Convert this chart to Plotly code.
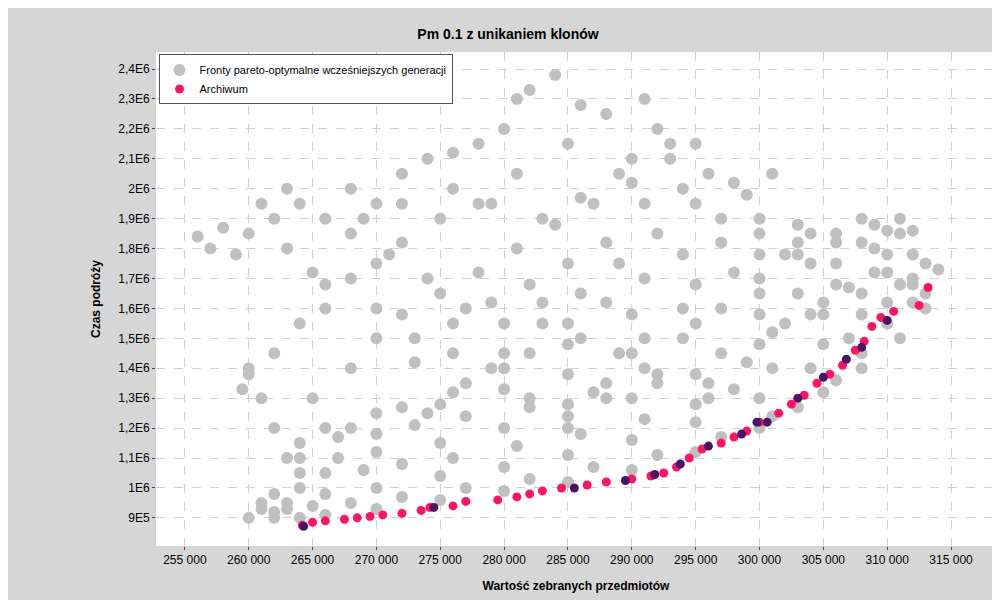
import plotly.graph_objects as go

# gray fronts: x in thousands, y in millions
fronts = [
 [(262,0.9),(264,0.9),(266,0.91),(270,0.93),(275,0.96),(280,0.99),(285,1.02),(290,1.06),(295,1.12),(300,1.2),(303,1.27),(306,1.36),(308,1.45),(310,1.55),(312,1.62),(314,1.73)],
 [(261,0.93),(263,0.95),(266,0.98),(270,1.0),(275,1.04),(280,1.07),(285,1.11),(290,1.16),(295,1.22),(300,1.3),(304,1.4),(307,1.5),(310,1.62),(312,1.7)],
 [(262,0.98),(264,1.05),(267,1.1),(270,1.12),(275,1.15),(280,1.2),(285,1.24),(290,1.3),(295,1.38),(300,1.48),(304,1.58),(307,1.67),(310,1.78),(312,1.86)],
 [(264,1.1),(266,1.2),(270,1.25),(275,1.28),(280,1.33),(285,1.38),(290,1.45),(295,1.55),(300,1.65),(304,1.75),(308,1.82),(311,1.9)],
 [(268,1.2),(272,1.27),(276,1.32),(280,1.4),(285,1.48),(290,1.58),(295,1.68),(300,1.78),(304,1.85),(308,1.9)],
 [(256,1.84),(258,1.87),(260,1.85),(262,1.9),(264,1.95),(268,2.0),(272,2.05),(276,2.12),(280,2.2),(282,2.33),(284,2.38)],
 [(259.5,1.33),(260,1.4),(262,1.45),(264,1.55),(266,1.6),(268,1.7),(270,1.75),(272,1.82),(275,1.9),(278,1.95),(281,2.05),(285,2.15),(288,2.25),(291,2.3)],
 [(265,1.3),(268,1.4),(270,1.5),(272,1.58),(275,1.65),(278,1.72),(281,1.8),(284,1.88),(287,1.95),(290,2.02),(293,2.1),(295,2.15)],
 [(274,1.25),(277,1.35),(280,1.45),(283,1.55),(286,1.65),(289,1.75),(292,1.85),(295,1.95),(298,2.02),(301,2.05)],
 [(285,1.2),(288,1.3),(291,1.4),(294,1.5),(297,1.6),(300,1.7),(303,1.78),(306,1.85),(309,1.88),(311,1.85)],
 [(291,1.5),(294,1.6),(298,1.72),(302,1.78),(306,1.82),(310,1.86),(313,1.75)],
 [(260,1.38),(261,1.3),(262,1.2),(263,1.1),(264,1.0),(261,0.95),(260,0.9),(262,0.92)],
 [(269,1.9),(272,1.95),(276,2.0),(279,1.95),(283,1.9),(286,1.97),(290,2.1),(293,2.15),(296,2.05),(299,1.98)],
 [(266,1.68),(270,1.6),(273,1.5),(276,1.45),(279,1.4),(282,1.3),(285,1.28),(288,1.35)],
 [(263,1.8),(265,1.72),(268,1.85),(271,1.78),(274,1.7),(277,1.6),(280,1.55),(283,1.62),(286,1.5),(289,1.45),(292,1.35),(295,1.28),(298,1.33)],
 [(263,0.93),(265,0.94),(268,0.95),(272,0.97),(277,1.0),(282,1.03),(287,1.07),(292,1.11),(297,1.17),(301,1.24),(305,1.32),(308,1.4),(311,1.5),(313,1.6)],
 [(264,1.15),(267,1.17),(270,1.18),(273,1.21),(277,1.24),(282,1.27),(287,1.32),(292,1.38),(297,1.45),(301,1.52),(305,1.62),(309,1.72),(312,1.78)],
 [(266,1.05),(269,1.06),(272,1.08),(276,1.1),(281,1.14),(286,1.18),(291,1.23),(296,1.3),(301,1.4),(305,1.48),(308,1.58),(311,1.68)],
 [(273,1.42),(276,1.55),(279,1.62),(282,1.68),(285,1.75),(288,1.82),(291,1.95),(294,2.0),(297,1.9),(300,1.85),(303,1.82)],
 [(282,1.45),(285,1.55),(288,1.62),(291,1.7),(294,1.78),(297,1.82),(300,1.9),(303,1.88),(306,1.75),(309,1.8),(312,1.68)],
 [(257,1.8),(259,1.78),(261,1.95),(263,2.0),(266,1.9),(270,1.95),(274,2.1),(278,2.15),(281,2.3),(286,2.28),(289,2.05),(292,2.2)],
 [(296,1.35),(299,1.42),(302,1.55),(305,1.58),(308,1.65),(310,1.72),(313,1.65),(306,1.68),(303,1.65),(300,1.58)],
]
gray_x = [p[0]*1000 for f in fronts for p in f]
gray_y = [p[1]*1e6 for f in fronts for p in f]

arch = [(264.2,0.875),(265,0.885),(266,0.89),(267.5,0.895),(268.5,0.9),(269.5,0.905),(270.5,0.91),(272,0.915),
 (273.5,0.925),(274.2,0.935),(276,0.94),(277,0.955),(279.5,0.96),(281,0.97),(282,0.98),(283,0.99),(284.5,1.0),
 (286.5,1.01),(288,1.02),(290,1.03),(291.5,1.04),(292.5,1.05),(293.5,1.07),(294.5,1.1),(295.5,1.13),(297,1.15),
 (298,1.17),(299,1.19),(300,1.22),(301.5,1.25),(302.5,1.28),(303.5,1.31),(304.5,1.35),(305.5,1.38),(306.5,1.41),
 (307.5,1.46),(308.2,1.49),(308.8,1.54),(309.5,1.57),(310.5,1.59),(312.5,1.61),(313.2,1.67)]
arch_x = [p[0]*1000 for p in arch]
arch_y = [p[1]*1e6 for p in arch]
dark = [(264.3,0.872),(274.5,0.935),(285.5,1.0),(289.5,1.025),(291.8,1.045),(293.8,1.08),(296,1.14),(298.6,1.18),
 (299.8,1.22),(300.6,1.22),(303,1.3),(305,1.37),(306.8,1.43),(308,1.47),(310,1.56)]
dark_x = [p[0]*1000 for p in dark]
dark_y = [p[1]*1e6 for p in dark]

xticks = list(range(250000, 315001, 5000))
xlabels = [f"{v//1000} 000" for v in xticks]
yticks = [900000 + i*100000 for i in range(16)]
ylabels = ["9E5", "1E6"] + [f"{v/1e6:.1f}".replace(".", ",").replace(",0", "") + "E6" for v in yticks[2:]]

fig = go.Figure()
fig.add_trace(go.Scatter(x=gray_x, y=gray_y, mode="markers", name="Fronty pareto-optymalne wcześniejszych generacji",
                         marker=dict(color="#c0c0c0", size=12)))
fig.add_trace(go.Scatter(x=arch_x, y=arch_y, mode="markers", name="Archiwum", marker=dict(color="#ff1464", size=9)))
fig.add_trace(go.Scatter(x=dark_x, y=dark_y, mode="markers", showlegend=False, marker=dict(color="#4a1466", size=9)))

fig.update_layout(
    width=1000, height=600, paper_bgcolor="#d6d6d6", plot_bgcolor="white",
    font=dict(family="Liberation Sans, Arial", size=12, color="black"),
    title=dict(text="<b>Pm 0.1 z unikaniem klonów</b>", x=0.5, y=0.965, font=dict(size=14)),
    margin=dict(l=148, r=12, t=44, b=62, autoexpand=False),
    legend=dict(x=0.003, y=0.995, xanchor="left", yanchor="top", bgcolor="white", bordercolor="#555", borderwidth=1,
                font=dict(size=11)),
    xaxis=dict(range=[252740, 318520], tickvals=xticks, ticktext=xlabels, showgrid=True, gridcolor="#d0d0d0",
               griddash="dash", zeroline=False, ticks="outside", ticklen=3, automargin=False,
               tickprefix="<b>", ticksuffix="</b>",
               title=dict(text="<b>Wartość zebranych przedmiotów</b>", font=dict(size=12))),
    yaxis=dict(range=[806000, 2457000], tickvals=yticks, ticktext=ylabels, showgrid=True, gridcolor="#d0d0d0",
               griddash="dash", zeroline=False, ticks="outside", ticklen=3, automargin=False,
               tickprefix="<b>", ticksuffix="</b>",
               title=dict(text="<b>Czas podróży</b>", font=dict(size=12))),
)
fig.write_html("out.html")
